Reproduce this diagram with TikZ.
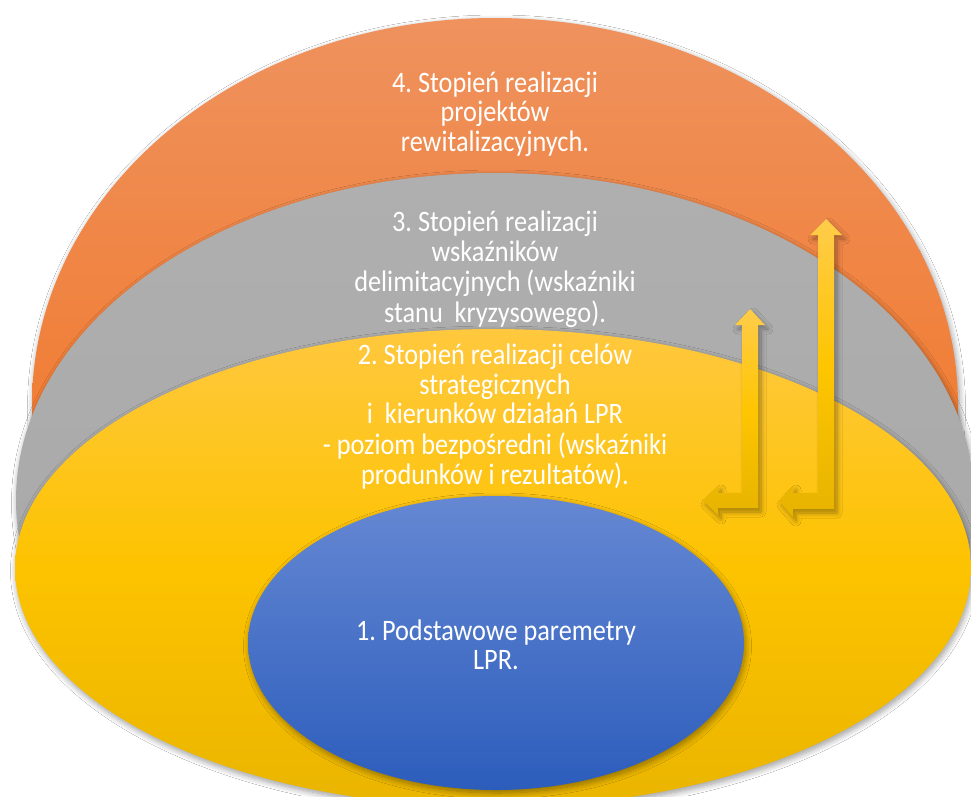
\documentclass[tikz,border=0pt]{standalone}
\usepackage{fontspec}
\setmainfont{Carlito}
\usetikzlibrary{shadows.blur}
\frenchspacing
\definecolor{orTop}{HTML}{EF925E}
\definecolor{orBot}{HTML}{F07E36}
\definecolor{grTop}{HTML}{AFAFAF}
\definecolor{grBot}{HTML}{A6A6A6}
\definecolor{ylTop}{HTML}{FFC83E}
\definecolor{ylMid}{HTML}{FDC300}
\definecolor{ylBot}{HTML}{EAB500}
\definecolor{blTop}{HTML}{6688D3}
\definecolor{blBot}{HTML}{2C5DBC}
\definecolor{arTop}{HTML}{FFCC4A}
\definecolor{arMid}{HTML}{FEC500}
\definecolor{arBot}{HTML}{E6B300}
\newcommand{\tallbox}[1]{\scalebox{1}[1.13]{\begin{tabular}{@{}c@{}}#1\end{tabular}}}
\tikzset{
  layershadow/.style={blur shadow={shadow xshift=1.5pt, shadow yshift=-3pt,
      shadow blur steps=10, shadow blur radius=6pt, shadow opacity=40}},
  lbl/.style={text=white, inner sep=0pt,
      font=\fontsize{26.3}{26}\selectfont},
  goldarrow/.style={top color=arTop, bottom color=arBot, middle color=arMid,
      blur shadow={shadow xshift=3pt, shadow yshift=-4pt,
      shadow blur steps=8, shadow blur radius=5pt, shadow opacity=35}},
}
\begin{document}
\begin{tikzpicture}[x=1pt,y=-1pt]
  \useasboundingbox (0,0) rectangle (971,796);
  \fill[white] (0,0) rectangle (971,796);
  \begin{scope}
    \clip (0,0) rectangle (971,560);
    % 4 - orange
    \path[layershadow, top color=orTop, bottom color=orBot, middle color=orBot]
      (495,405) ellipse [x radius=463pt, y radius=387pt];
    % 3 - grey
    \path[layershadow, top color=grTop, bottom color=grBot]
      (495,500) ellipse [x radius=479pt, y radius=327pt];
  \end{scope}
  \begin{scope}
    \clip (0,0) rectangle (971,796);
    % 2 - yellow
    \path[layershadow, top color=ylTop, bottom color=ylBot, middle color=ylMid]
      (493,568) ellipse [x radius=478pt, y radius=239pt];
    % 1 - blue
    \path[layershadow, top color=blTop, bottom color=blBot]
      (496,643) ellipse [x radius=248pt, y radius=147pt];
    % arrows
    \path[goldarrow] (750,309) -- (765,325) -- (758,325) -- (758,508)
      -- (718,508) -- (718,515) -- (703,500.5) -- (718,486) -- (718,493)
      -- (742,493) -- (742,325) -- (735,325) -- cycle;
    \path[goldarrow] (826,219) -- (842,235) -- (834,235) -- (834,509)
      -- (793,509) -- (793,517) -- (779,501) -- (793,486) -- (793,493)
      -- (818,493) -- (818,235) -- (810,235) -- cycle;
  \end{scope}
  \node[lbl] (t4) at (495,116) {\tallbox{4. Stopień realizacji\\projektów\\rewitalizacyjnych.}};
  \node[lbl] (t3) at (495,271) {\tallbox{3. Stopień realizacji\\wskaźników\\delimitacyjnych (wskaźniki\\stanu~ kryzysowego).}};
  \node[lbl] (t2) at (495,419) {\tallbox{2. Stopień realizacji celów\\strategicznych\\i~ kierunków działań LPR\\- poziom bezpośredni (wskaźniki\\produnków i rezultatów).}};
  \node[lbl] (t1) at (496,649) {\tallbox{1. Podstawowe paremetry\\LPR.}};
\end{tikzpicture}
\end{document}
